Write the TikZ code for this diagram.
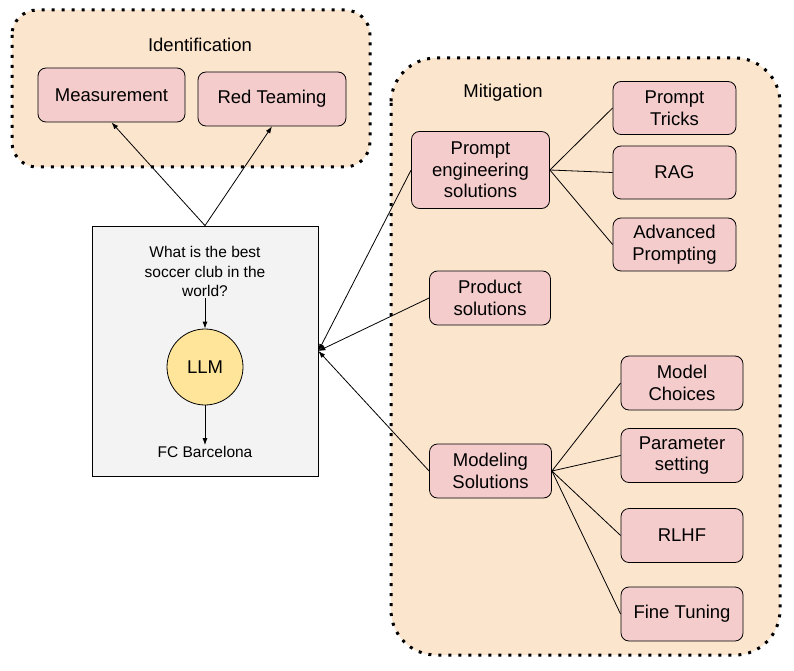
\documentclass[tikz,border=0pt]{standalone}
\usepackage{fontspec}
\setmainfont{Liberation Sans}
\usepackage{xcolor}
\definecolor{grouporange}{HTML}{FCE5CD}
\definecolor{solpink}{HTML}{F4CCCC}
\definecolor{llmgray}{HTML}{F3F3F3}
\definecolor{llmyellow}{HTML}{FFE599}
\usetikzlibrary{arrows.meta,positioning}

\begin{document}
\begin{tikzpicture}[x=1pt,y=-1pt,
  group/.style={fill=grouporange, line width=3pt, dash pattern=on 3pt off 7pt},
  solbox/.style={draw, fill=solpink, rounded corners=8pt, line width=0.8pt, align=center,
    font=\fontsize{18.5}{21.5}\selectfont, minimum height=54pt, inner sep=2pt},
  link/.style={line width=0.8pt},
  arr/.style={link, -{Latex[length=7pt,width=5pt]}}]
  \useasboundingbox (0,0) rectangle (794,671);

  % Identification group
  \draw[group, rounded corners=25pt] (12,10) rectangle (370,167);
  \node[font=\fontsize{18.5}{21}\selectfont] (identlabel) at (200,45) {Identification};
  \node[solbox, minimum width=147pt] (measure) at (111.5,95) {Measurement};
  \node[solbox, minimum width=148pt] (redteam) at (272,99) {Red Teaming};

  % Mitigation group
  \draw[group, rounded corners=45pt] (391,58) rectangle (780,655);
  \node[font=\fontsize{18.5}{21}\selectfont] (mitlabel) at (503,93) {Mitigation};

  % Prompt engineering branch
  \node[solbox, minimum width=138pt, minimum height=77pt] (prompteng) at (480.5,170) {Prompt\\engineering\\solutions};
  \node[solbox, minimum width=123pt, minimum height=53pt] (tricks) at (674.5,108) {Prompt\\Tricks};
  \node[solbox, minimum width=123pt, minimum height=53pt] (rag) at (674.5,172.5) {RAG};
  \node[solbox, minimum width=123pt, minimum height=53pt] (advanced) at (674.5,244.5) {Advanced\\Prompting};

  % Product branch
  \node[solbox, minimum width=121pt] (product) at (490,298) {Product\\solutions};

  % Modeling branch
  \node[solbox, minimum width=122pt] (modeling) at (490.5,471) {Modeling\\Solutions};
  \node[solbox, minimum width=122pt] (choices) at (682,383) {Model\\Choices};
  \node[solbox, minimum width=122pt] (params) at (682,455.5) {Parameter\\setting};
  \node[solbox, minimum width=122pt] (rlhf) at (682,535.5) {RLHF};
  \node[solbox, minimum width=122pt] (finetune) at (682,614) {Fine Tuning};

  % LLM box
  \node[draw, fill=llmgray, line width=0.8pt, minimum width=226pt, minimum height=250pt] (llmbox) at (205,351) {};
  \node[align=center, font=\fontsize{15.5}{19.5}\selectfont, inner sep=1pt] (question) at (205,271.5) {What is the best\\soccer club in the\\world?};
  \node[circle, draw, fill=llmyellow, line width=0.8pt, minimum size=76pt, font=\fontsize{18.5}{21}\selectfont] (llm) at (205,367) {LLM};
  \node[font=\fontsize{15.5}{19}\selectfont, inner sep=1pt] (answer) at (205,452) {FC Barcelona};

  % connectors
  \draw[arr] (question) -- (llm);
  \draw[arr] (llm) -- (answer);
  \draw[arr] (llmbox.north) -- (measure.south);
  \draw[arr] (llmbox.north) -- (redteam.south);
  \draw[arr] (prompteng.west) -- (llmbox.east);
  \draw[arr] (product.west) -- (llmbox.east);
  \draw[arr] (modeling.west) -- (llmbox.east);
  \foreach \n in {tricks,rag,advanced}
    \draw[link] (prompteng.east) -- (\n.west);
  \foreach \n in {choices,params,rlhf,finetune}
    \draw[link] (modeling.east) -- (\n.west);
\end{tikzpicture}
\end{document}
